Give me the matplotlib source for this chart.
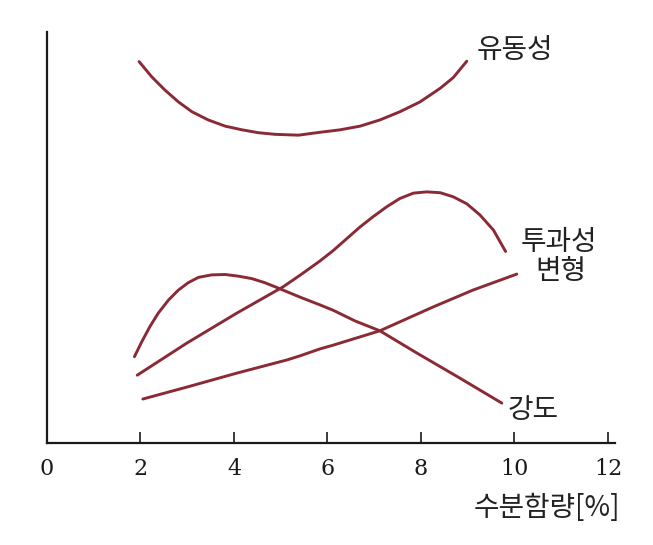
import matplotlib
matplotlib.use("Agg")
import matplotlib.pyplot as plt

# --- data (x: 수분함량 %, y: relative level 0..100) ---
fluid_x = [1.97, 2.24, 2.52, 2.81, 3.10, 3.45, 3.81, 4.17, 4.52, 4.88, 5.38,
           5.84, 6.27, 6.70, 7.12, 7.55, 7.98, 8.41, 8.69, 8.98]
fluid_y = [92.8, 89.1, 85.9, 83.0, 80.6, 78.6, 77.1, 76.2, 75.5, 75.1, 74.9,
           75.6, 76.2, 77.1, 78.6, 80.6, 83.0, 86.3, 88.9, 92.9]

strength_x = [1.87, 2.03, 2.20, 2.38, 2.60, 2.81, 3.02, 3.24, 3.52, 3.81, 4.09, 4.38,
              4.66, 4.88, 5.05, 5.41, 5.84, 6.12, 6.59, 7.12, 7.91, 8.83, 9.73]
strength_y = [21.0, 24.7, 28.3, 31.6, 34.8, 37.2, 39.0, 40.3, 40.9, 41.0, 40.6, 40.0,
              39.0, 38.0, 37.2, 35.5, 33.6, 32.3, 29.7, 27.3, 21.9, 15.8, 9.7]

perm_x = [1.93, 2.99, 4.06, 5.05, 5.41, 5.84, 6.12, 6.70, 6.98, 7.27, 7.55, 7.84,
          8.12, 8.41, 8.69, 8.98, 9.26, 9.55, 9.81]
perm_y = [16.5, 24.3, 31.6, 38.0, 40.8, 44.3, 46.8, 52.6, 55.1, 57.5, 59.5, 60.8,
          61.1, 60.9, 59.9, 58.2, 55.5, 51.8, 46.6]

deform_x = [2.05, 2.99, 4.06, 5.13, 5.41, 5.84, 6.12, 7.12, 8.26, 9.11, 10.05]
deform_y = [10.7, 13.6, 17.0, 20.2, 21.2, 22.9, 23.8, 27.3, 33.1, 37.2, 41.1]

xticks = [0, 2, 4, 6, 8, 10, 12]
xlabel = "수분함량[%]"
labels = {"유동성": (9.20, 95.6, "left"), "투과성": (10.96, 49.0, "center"),
          "변형": (11.00, 41.8, "center"), "강도": (9.86, 8.0, "left")}

W, H = 653, 545
fig = plt.figure(figsize=(W / 100, H / 100), dpi=100)
ax = fig.add_axes([47 / W, 102 / H, 568 / W, 411 / H])

col = "#8a2a35"
for xs, ys in [(fluid_x, fluid_y), (strength_x, strength_y), (perm_x, perm_y), (deform_x, deform_y)]:
    ax.plot(xs, ys, color=col, lw=2.1, solid_capstyle="round", solid_joinstyle="round")

ax.set_xlim(0, 12.15)
ax.set_ylim(0, 100)
ax.spines["top"].set_visible(False)
ax.spines["right"].set_visible(False)
for s in ("left", "bottom"):
    ax.spines[s].set_linewidth(1.6)
    ax.spines[s].set_color("#1a1a1a")
ax.set_yticks([])
ax.set_xticks(xticks)
ax.set_xticklabels([str(t) for t in xticks], family="DejaVu Serif", fontsize=16)
ax.tick_params(axis="x", direction="in", length=8, width=1.2, pad=11, colors="#1a1a1a")

kfont = ["Noto Sans CJK KR", "DejaVu Sans"]
for txt, (x, y, ha) in labels.items():
    ax.text(x, y, txt, ha=ha, va="center", fontsize=20, family=kfont, color="#222222")

fig.text(620 / W, 1 - 508 / H, xlabel, ha="right", va="center", fontsize=20,
         family=kfont, color="#222222")

fig.savefig("out.png", dpi=100)
